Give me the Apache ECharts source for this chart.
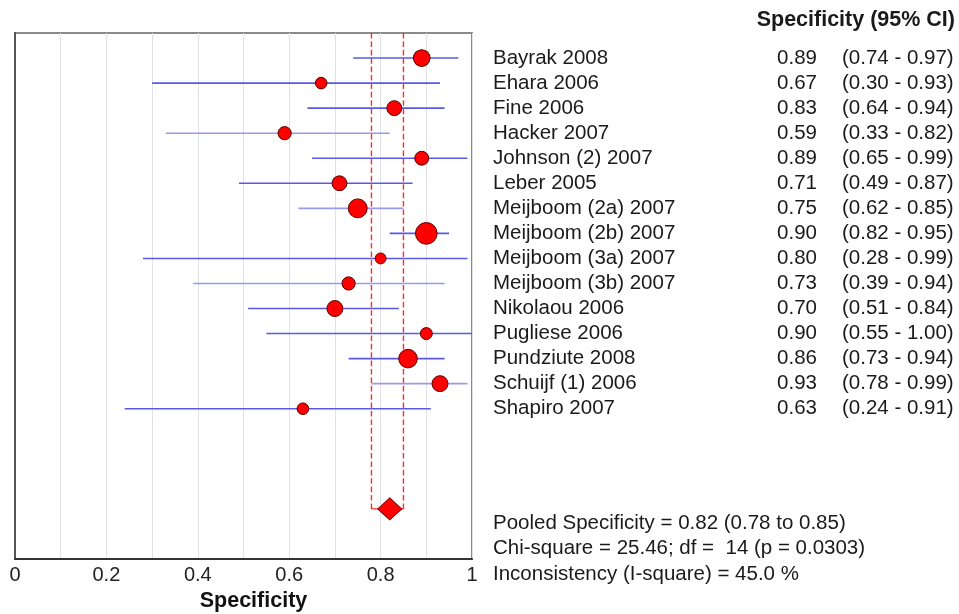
<!DOCTYPE html>
<html>
<head>
<meta charset="utf-8">
<script src="https://cdn.jsdelivr.net/npm/echarts@6/dist/echarts.min.js"></script>
<style>
  html, body { margin: 0; padding: 0; background: #fff; }
  #chart { width: 959px; height: 614px; }
</style>
</head>
<body>
<div id="chart"></div>
<script>
// study data
var studies = ['Bayrak 2008', 'Ehara 2006', 'Fine 2006', 'Hacker 2007', 'Johnson (2) 2007',
  'Leber 2005', 'Meijboom (2a) 2007', 'Meijboom (2b) 2007', 'Meijboom (3a) 2007',
  'Meijboom (3b) 2007', 'Nikolaou 2006', 'Pugliese 2006', 'Pundziute 2008',
  'Schuijf (1) 2006', 'Shapiro 2007']
var spec = [0.89, 0.67, 0.83, 0.59, 0.89, 0.71, 0.75, 0.90, 0.80, 0.73, 0.70, 0.90, 0.86, 0.93, 0.63]
var ciLow = [0.74, 0.30, 0.64, 0.33, 0.65, 0.49, 0.62, 0.82, 0.28, 0.39, 0.51, 0.55, 0.73, 0.78, 0.24]
var ciHigh = [0.97, 0.93, 0.94, 0.82, 0.99, 0.87, 0.85, 0.95, 0.99, 0.94, 0.84, 1.00, 0.94, 0.99, 0.91]
// relative study weights (marker area)
var weights = [7.0, 3.4, 5.6, 4.4, 4.9, 5.6, 9.0, 11.8, 3.0, 4.4, 6.4, 3.6, 8.7, 6.4, 3.4]

var pooled = 0.82
var pooledLow = 0.78
var pooledHigh = 0.85
var pooledRow = 18
var xTicks = [0, 0.2, 0.4, 0.6, 0.8, 1]

var statLines = [
  'Pooled Specificity = 0.82 (0.78 to 0.85)',
  'Chi-square = 25.46; df =  14 (p = 0.0303)',
  'Inconsistency (I-square) = 45.0 %'
]

var FONT = '"Liberation Sans", Arial, sans-serif'
var lightRows = [3, 6, 9, 13]

var ciSeries = studies.map(function (name, i) {
  var c = lightRows.indexOf(i) >= 0 ? '#9a9aec' : '#5a5ae6'
  return {
    type: 'line',
    silent: true,
    symbol: 'none',
    z: 4,
    itemStyle: { color: c },
    lineStyle: { color: c, width: 1.6 },
    data: [[ciLow[i], i], [ciHigh[i], i]]
  }
})

var pooledLines = [pooledLow, pooledHigh].map(function (v) {
  return {
    type: 'line', silent: true, symbol: 'none', z: 3,
    itemStyle: { color: '#ff2a2a' },
    lineStyle: { color: '#ff2a2a', width: 1.4, type: 'dashed', opacity: 1 },
    data: [[v, -1], [v, pooledRow]]
  }
})

var option = {
  backgroundColor: '#fff',
  animation: false,
  grid: {
    left: 15, right: 487, top: 33, bottom: 55,
    outerBoundsMode: 'none', containLabel: false,
    show: true, borderColor: '#8a8a8a', borderWidth: 2
  },
  xAxis: {
    type: 'value', min: 0, max: 1, interval: 0.2,
    name: 'Specificity', nameLocation: 'middle', nameGap: 31,
    nameTextStyle: { fontFamily: FONT, fontWeight: 'bold', fontSize: 21.5, color: '#111', padding: [0, 0, 0, 20] },
    axisLine: { show: true, onZero: false, lineStyle: { color: '#333', width: 2 } },
    axisTick: { show: false },
    axisLabel: {
      fontFamily: FONT, fontSize: 20, color: '#222', margin: 6,
      formatter: function (v) { return xTicks.indexOf(+v.toFixed(1)) >= 0 ? String(+v.toFixed(1)) : '' }
    },
    splitLine: { show: true, lineStyle: { color: '#e2e2e6', width: 1 } },
    minorTick: { show: false, splitNumber: 2 },
    minorSplitLine: { show: true, lineStyle: { color: '#e2e2e6', width: 1 } }
  },
  yAxis: {
    type: 'value', min: -1, max: 20, inverse: true,
    axisLine: { show: true, onZero: false, lineStyle: { color: '#555', width: 2 } },
    axisTick: { show: false }, axisLabel: { show: false }, splitLine: { show: false }
  },
  series: ciSeries.concat(pooledLines, [
    {
      type: 'line', silent: true, symbol: 'none', z: 3,
      itemStyle: { color: '#ff2a2a' },
      lineStyle: { color: '#ff2a2a', width: 1.4 },
      data: [[pooledLow, pooledRow], [pooledHigh, pooledRow]]
    },
    {
      type: 'scatter', silent: true, z: 5,
      symbolSize: function (v, p) { return Math.sqrt(weights[p.dataIndex]) * 6.3 },
      itemStyle: { color: '#ff0000', borderColor: '#5a0000', borderWidth: 1, opacity: 1 },
      data: spec.map(function (v, i) { return [v, i] })
    },
    {
      type: 'scatter', silent: true, z: 5, symbol: 'diamond', symbolSize: [24, 22],
      itemStyle: { color: '#ff0000', borderColor: '#8a0000', borderWidth: 1, opacity: 1 },
      data: [[pooled, pooledRow]]
    }
  ])
}

var chart = echarts.init(document.getElementById('chart'), null, { renderer: 'canvas' })
chart.setOption(option)

// right-hand table text, rows placed through the y scale
var txt = { fontFamily: FONT, fontSize: 20.5, fill: '#1a1a1a' }
var graphics = [{
  type: 'text', x: 955, y: 20,
  style: Object.assign({}, txt, { text: 'Specificity (95% CI)', fontWeight: 'bold', fontSize: 21.5, textAlign: 'right', textVerticalAlign: 'middle' })
}]
studies.forEach(function (name, i) {
  var y = chart.convertToPixel({ yAxisIndex: 0 }, i)
  graphics.push({ type: 'text', x: 493, y: y, style: Object.assign({}, txt, { text: name, textVerticalAlign: 'middle' }) })
  graphics.push({ type: 'text', x: 817, y: y, style: Object.assign({}, txt, { text: spec[i].toFixed(2), textAlign: 'right', textVerticalAlign: 'middle' }) })
  graphics.push({ type: 'text', x: 842, y: y, style: Object.assign({}, txt, { text: '(' + ciLow[i].toFixed(2) + ' - ' + ciHigh[i].toFixed(2) + ')', textVerticalAlign: 'middle' }) })
})
statLines.forEach(function (s, k) {
  graphics.push({ type: 'text', x: 493, y: 523 + k * 25.5, style: Object.assign({}, txt, { text: s, textVerticalAlign: 'middle' }) })
})
chart.setOption({ graphic: graphics })
</script>
</body>
</html>
